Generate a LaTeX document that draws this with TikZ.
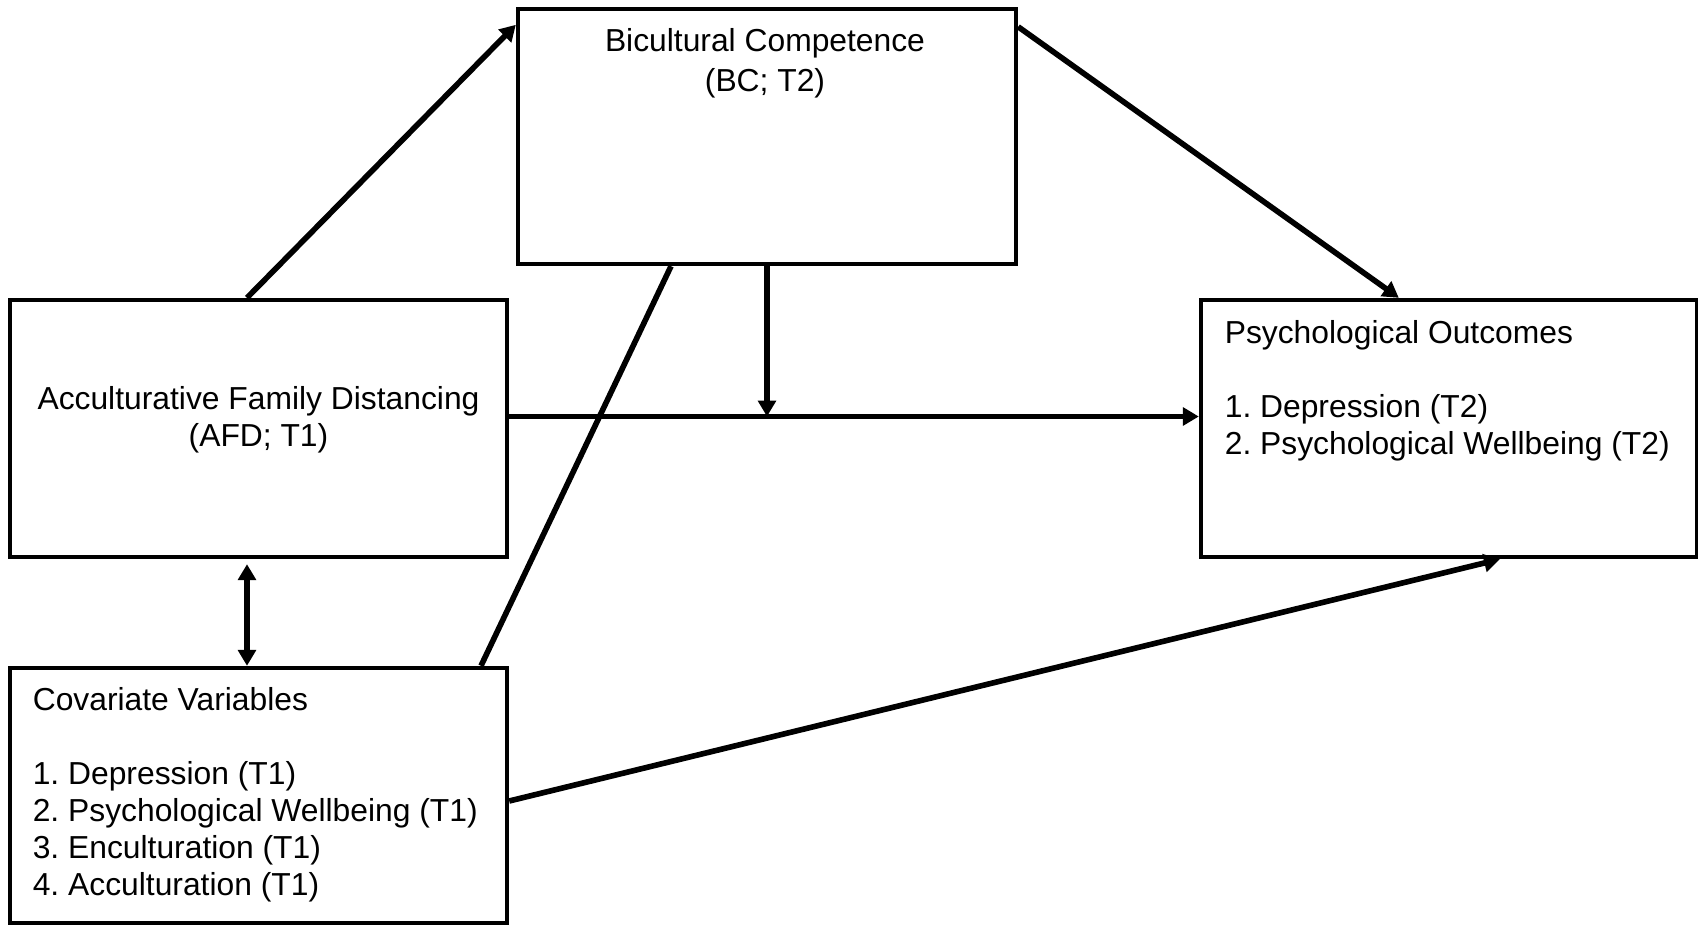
\documentclass[tikz,border=0pt]{standalone}
\usepackage{fontspec}
\setmainfont{Liberation Sans}
\usetikzlibrary{arrows.meta}

\begin{document}
\frenchspacing
\begin{tikzpicture}[line width=3.2pt, font=\fontsize{18.1}{21}\selectfont]
		\tikzstyle{every node}=[align=left]
		\tikzstyle{box}=[draw, line width=2.5pt, minimum width=9.94cm, minimum height=5.14cm, inner sep=0pt]
		\tikzstyle{arr}=[-{Triangle[length=9pt, width=10pt]}]
		\useasboundingbox (0, 0) rectangle (33.96, -18.5);

			\node[box, minimum width=9.96cm, minimum height=5.1cm] (bc) at (15.34, -2.73) {};
			\node[box] (afd) at (5.17, -8.57) {};
			\node[box, minimum width=9.92cm] (po) at (28.98, -8.57) {};
			\node[box, minimum height=5.1cm] (cov) at (5.17, -15.91) {};

			\node[align=center] (bclabel) at (15.3, -1.26) {Bicultural Competence\\[2pt](BC; T2)};
			\node[align=center] (afdlabel) at (5.17, -8.4) {Acculturative Family Distancing\\(AFD; T1)};
			\node[anchor=north west, inner sep=0pt] (polabel) at (24.44, -6.35) {Psychological Outcomes\\[21pt]1. Depression (T2)\\2. Psychological Wellbeing (T2)};
			\node[anchor=north west, inner sep=0pt] (covlabel) at (0.6, -13.7) {Covariate Variables\\[21pt]1. Depression (T1)\\2. Psychological Wellbeing (T1)\\3. Enculturation (T1)\\4. Acculturation (T1)};

			\coordinate (afdout) at ([yshift=0.24cm]afd.east);
			\coordinate (poin) at ([yshift=0.24cm]po.west);

			\draw[arr] ([xshift=-0.23cm]afd.north) -- ([yshift=-0.36cm]bc.north west);
			\draw[arr] ([yshift=-0.4cm]bc.north east) -- ([xshift=4cm]po.north west);
			\draw[arr] (afdout) -- (poin);
			\draw[arr] (bc.south) -- (bc.south |- afdout);
			\draw ([xshift=-1.92cm]bc.south) -- ([xshift=4.45cm]cov.north);
			\draw[{Triangle[length=9pt, width=10pt]}-{Triangle[length=9pt, width=10pt]}, shorten <=0.1cm] ([xshift=-0.23cm]afd.south) -- ([xshift=-0.23cm]cov.north);
			\draw[arr] ([yshift=-0.11cm]cov.east) -- ([xshift=6.02cm]po.south west);
		\end{tikzpicture}
\end{document}
